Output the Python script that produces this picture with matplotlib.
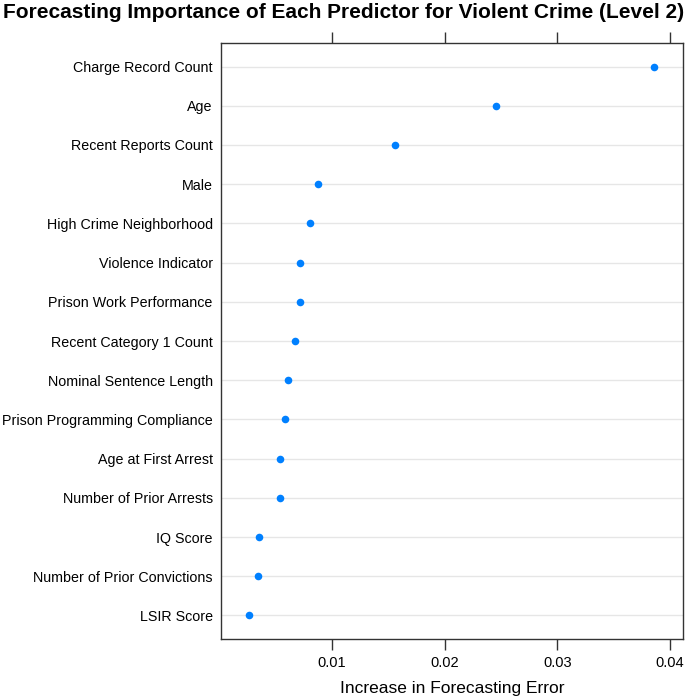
import numpy as np
from matplotlib import pyplot as plt

plt.rcParams['font.family'] = ['Liberation Sans', 'DejaVu Sans']

# predictors, top to bottom
predictors = ['Charge Record Count', 'Age', 'Recent Reports Count', 'Male',
              'High Crime Neighborhood', 'Violence Indicator',
              'Prison Work Performance', 'Recent Category 1 Count',
              'Nominal Sentence Length', 'Prison Programming Compliance',
              'Age at First Arrest', 'Number of Prior Arrests', 'IQ Score',
              'Number of Prior Convictions', 'LSIR Score']
importance = [0.03857, 0.02455, 0.01562, 0.00878, 0.00807, 0.00713, 0.00713,
              0.00675, 0.00607, 0.00583, 0.00539, 0.00536, 0.00349, 0.00344,
              0.00267]
xticks = [0.01, 0.02, 0.03, 0.04]

fig = plt.figure(figsize=(6.85, 6.99), dpi=100)
ax = fig.add_axes([0.3226, 0.0858, 0.997 - 0.3226, 0.9385 - 0.0858])

n = len(predictors)
ypos = np.arange(n, 0, -1)
for y in ypos:
    ax.axhline(y, color='#e6e6e6', lw=1, zorder=1)
ax.scatter(importance, ypos, s=30, color='#0080ff', zorder=3, linewidths=0)

ax.set_ylim(0.4, n + 0.6)
ax.set_xlim(0.00015, 0.04115)
ax.set_yticks(ypos)
ax.set_yticklabels(predictors, fontsize=10.3)
ax.set_xticks(xticks)
ax.set_xticklabels(['0.01', '0.02', '0.03', '0.04'], fontsize=10.5)
ax.tick_params(axis='y', length=0, pad=6)
ax.tick_params(axis='x', direction='out', length=8, width=1, color='#333333',
               top=True, labeltop=False, pad=4)
for s in ax.spines.values():
    s.set_color('#333333')
    s.set_linewidth(1)

ax.set_xlabel('Increase in Forecasting Error', fontsize=12.5, labelpad=8)
fig.text(0.502, 0.982, 'Forecasting Importance of Each Predictor for Violent Crime (Level 2)',
         ha='center', va='center', fontsize=15, fontweight='bold')

plt.savefig('out.png', dpi=100)
